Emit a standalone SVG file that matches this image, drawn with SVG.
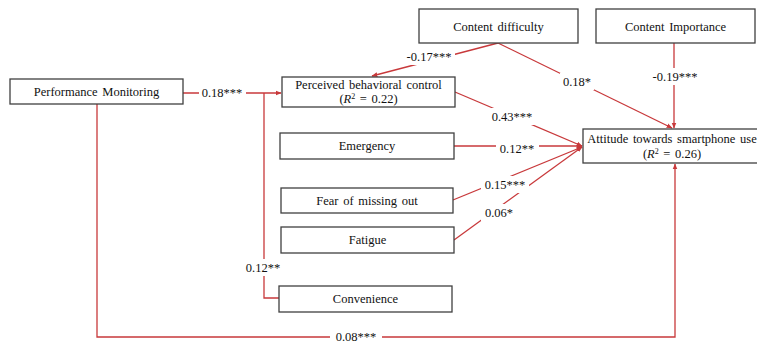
<svg xmlns="http://www.w3.org/2000/svg" width="757" height="343" viewBox="0 0 757 343">
<style>
.box{fill:#fff;stroke:#404040;stroke-width:1.3}
.t{font-family:"Liberation Serif","Times New Roman",serif;font-size:12.5px;fill:#111;text-anchor:middle;word-spacing:1.5px}
.c{fill:none;stroke:#c8393b;stroke-width:1.3}
.lb{fill:#fff}
.l{font-family:"Liberation Serif","Times New Roman",serif;font-size:12.5px;fill:#111;text-anchor:middle}
</style>
<defs>
<marker id="ar" viewBox="0 0 10 10" refX="9" refY="5" markerWidth="6" markerHeight="6" orient="auto" markerUnits="userSpaceOnUse">
<path d="M0,1 L10,5 L0,9 Z" fill="#c8393b"/>
</marker>
</defs>
<rect width="757" height="343" fill="#fff"/>
<g id="connectors">
<path class="c" d="M183,93 H281" marker-end="url(#ar)"/>
<path class="c" d="M279,298 H264 V93"/>
<path class="c" d="M498,43 L372,76" marker-end="url(#ar)"/>
<path class="c" d="M498,43 L672,128" marker-end="url(#ar)"/>
<path class="c" d="M674,43 V128" marker-end="url(#ar)"/>
<path class="c" d="M455,92 L582,146" marker-end="url(#ar)"/>
<path class="c" d="M454,146 H582" marker-end="url(#ar)"/>
<path class="c" d="M453,200 L582,147" marker-end="url(#ar)"/>
<path class="c" d="M454,240 L582,147" marker-end="url(#ar)"/>
<path class="c" d="M97,104 V337 H675 V164" marker-end="url(#ar)"/>
<g id="labels">
<rect class="lb" x="199" y="84" width="47" height="17"/>
<text class="l" x="222" y="97">0.18***</text>
<rect class="lb" x="242" y="259" width="42" height="17"/>
<text class="l" x="263" y="272">0.12**</text>
<rect class="lb" x="403" y="48" width="52" height="17"/>
<text class="l" x="429" y="61">-0.17***</text>
<rect class="lb" x="560" y="73" width="34" height="17"/>
<text class="l" x="577" y="86">0.18*</text>
<rect class="lb" x="649" y="68" width="52" height="17"/>
<text class="l" x="675" y="81">-0.19***</text>
<rect class="lb" x="488" y="108" width="48" height="17"/>
<text class="l" x="512" y="121">0.43***</text>
<rect class="lb" x="496" y="140" width="43" height="17"/>
<text class="l" x="517" y="153">0.12**</text>
<rect class="lb" x="481" y="176" width="48" height="17"/>
<text class="l" x="505" y="189">0.15***</text>
<rect class="lb" x="481" y="204" width="36" height="17"/>
<text class="l" x="499" y="217">0.06*</text>
<rect class="lb" x="330" y="329" width="52" height="14"/>
<text class="l" x="356" y="341">0.08***</text>
</g>
</g>
<g id="performance-monitoring">
<rect class="box" x="10" y="79" width="173" height="25"/>
<text class="t" x="96.5" y="96">Performance Monitoring</text>
</g>
<g id="perceived-behavioral-control">
<rect class="box" x="282" y="77" width="173" height="30"/>
<text class="t" x="368.5" y="89">Perceived behavioral control</text>
<text class="t" x="368.5" y="103">(<tspan font-style="italic">R</tspan><tspan baseline-shift="super" font-size="8px">2</tspan> = 0.22)</text>
</g>
<g id="emergency">
<rect class="box" x="280" y="133" width="174" height="26"/>
<text class="t" x="367" y="150">Emergency</text>
</g>
<g id="content-difficulty">
<rect class="box" x="419" y="9" width="159" height="34"/>
<text class="t" x="498.5" y="31">Content difficulty</text>
</g>
<g id="content-importance">
<rect class="box" x="596" y="9" width="159" height="34"/>
<text class="t" x="675.5" y="31">Content Importance</text>
</g>
<g id="attitude">
<rect class="box" x="583" y="129" width="180" height="34"/>
<text class="t" x="672" y="143">Attitude towards smartphone use</text>
<text class="t" x="672" y="158">(<tspan font-style="italic">R</tspan><tspan baseline-shift="super" font-size="8px">2</tspan> = 0.26)</text>
</g>
<g id="fear-of-missing-out">
<rect class="box" x="281" y="188" width="172" height="25"/>
<text class="t" x="367" y="205">Fear of missing out</text>
</g>
<g id="fatigue">
<rect class="box" x="281" y="227" width="173" height="26"/>
<text class="t" x="367.5" y="244">Fatigue</text>
</g>
<g id="convenience">
<rect class="box" x="279" y="286" width="173" height="26"/>
<text class="t" x="365.5" y="303">Convenience</text>
</g>
</svg>
